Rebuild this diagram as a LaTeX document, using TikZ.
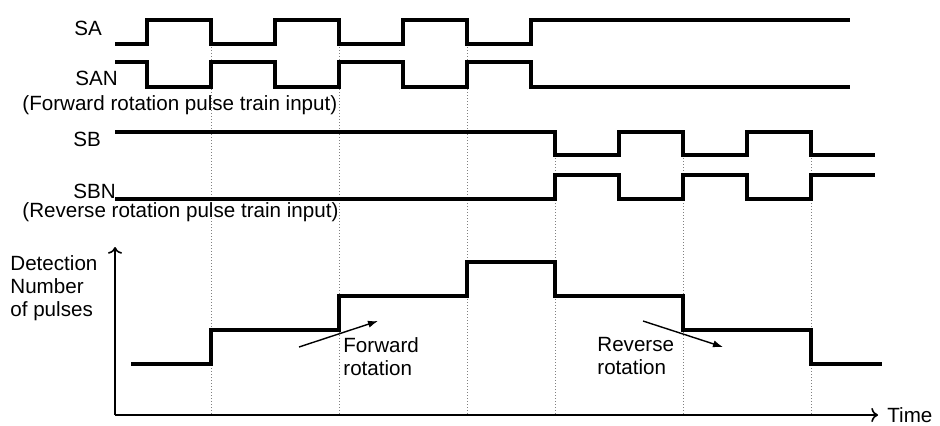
\documentclass[tikz,border=0pt]{standalone}
\usepackage{fontspec}
\setmainfont{Liberation Sans}
\usetikzlibrary{arrows.meta}

\begin{document}
\begin{tikzpicture}[x=0.5pt, y=-0.5pt,
  every node/.style={inner sep=0pt, font=\fontsize{10.3}{11.5}\selectfont},
  sig/.style={line width=2pt},
  guide/.style={densely dotted, gray, line width=0.5pt},
  axis/.style={->, line width=0.8pt},
  pointer/.style={-{Latex[length=5pt,width=3.6pt]}, line width=0.7pt}]
\useasboundingbox (0,0) rectangle (940,425);
% --- guide lines ---
\foreach \x in {211,339,467} \draw[guide] (\x,44) -- (\x,415);
\foreach \x in {555,683,811} \draw[guide] (\x,155) -- (\x,415);
% --- forward rotation input: SA / SAN ---
\node[anchor=base west] (sa) at (74,35) {SA};
\node[anchor=base west] (san) at (75,85) {SAN};
\node[anchor=base west] (fwdin) at (22,110) {(Forward rotation pulse train input)};
\draw[sig] (115,44) -- (147,44) -- (147,20) -- (211,20) -- (211,44) -- (275,44) -- (275,20) -- (339,20) -- (339,44)
  -- (403,44) -- (403,20) -- (467,20) -- (467,44) -- (531,44) -- (531,20) -- (850,20);
\draw[sig] (115,62) -- (147,62) -- (147,87) -- (211,87) -- (211,62) -- (275,62) -- (275,87) -- (339,87) -- (339,62)
  -- (403,62) -- (403,87) -- (467,87) -- (467,62) -- (531,62) -- (531,87) -- (850,87);
% --- reverse rotation input: SB / SBN ---
\node[anchor=base west] (sb) at (73,146) {SB};
\node[anchor=base west] (sbn) at (73,198) {SBN};
\node[anchor=base west] (revin) at (22,217) {(Reverse rotation pulse train input)};
\draw[sig] (115,132) -- (555,132) -- (555,155) -- (619,155) -- (619,132) -- (683,132) -- (683,155) -- (747,155)
  -- (747,132) -- (811,132) -- (811,155) -- (875,155);
\draw[sig] (115,199) -- (555,199) -- (555,175) -- (619,175) -- (619,199) -- (683,199) -- (683,175) -- (747,175)
  -- (747,199) -- (811,199) -- (811,175) -- (875,175);
% --- number of pulses ---
\coordinate (o) at (115,415);
\coordinate (ytop) at (115,247);
\node[anchor=west, inner xsep=4.5pt] (time) at (878,415) {Time};
\draw[axis] (o) -- (ytop);
\draw[axis] (o) -- (time.west);
\node[anchor=north west, align=left] (detect) at (10,255) {Detection\\Number\\of pulses};
\draw[sig] (131,364) -- (211,364) -- (211,330) -- (339,330) -- (339,296) -- (467,296) -- (467,262) -- (555,262)
  -- (555,296) -- (683,296) -- (683,330) -- (811,330) -- (811,364) -- (882,364);
\node[anchor=north west, align=left] (fwdtxt) at (343,337) {Forward\\rotation};
\node[anchor=north west, align=left] (revtxt) at (597,337) {Reverse\\rotation};
\coordinate (fwd-a) at (299,347);
\coordinate (fwd-b) at (378,321);
\coordinate (rev-a) at (643,321);
\coordinate (rev-b) at (723,347);
\draw[pointer] (fwd-a) -- (fwd-b);
\draw[pointer] (rev-a) -- (rev-b);
\end{tikzpicture}
\end{document}
